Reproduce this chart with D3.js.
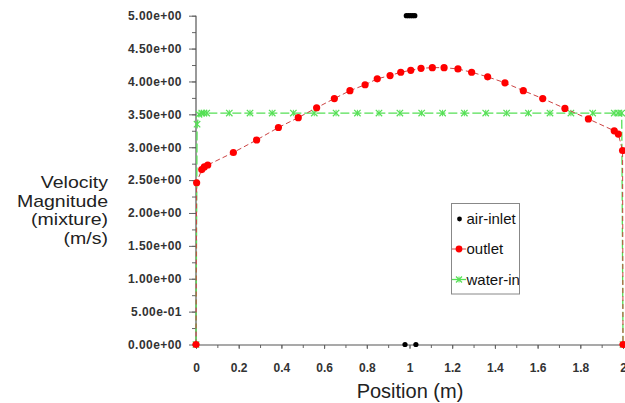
<!DOCTYPE html>
<html>
<head>
<meta charset="utf-8">
<script src="https://cdn.jsdelivr.net/npm/d3@7"></script>
<style>
  html, body { margin: 0; padding: 0; background: #fff; }
  svg { display: block; }
  text { font-family: "Liberation Sans", Arial, sans-serif; }
</style>
</head>
<body>
<svg id="chart" width="625" height="403"></svg>
<script>
// ---- data ----
const airX = [0.979, 0.985, 0.995, 1.005, 1.015, 1.025, 1.030];
const airY = [0, 5, 5, 5, 5, 5, 0];

const outletX = [0, 0.003, 0.027, 0.039, 0.055, 0.175, 0.284, 0.386, 0.479, 0.565, 0.648, 0.721, 0.792, 0.849, 0.909, 0.959, 1.006, 1.054, 1.107, 1.162, 1.227, 1.291, 1.366, 1.447, 1.533, 1.624, 1.728, 1.838, 1.959, 1.978, 1.998, 2.0];
const outletY = [0, 2.46, 2.66, 2.70, 2.73, 2.92, 3.11, 3.30, 3.45, 3.60, 3.74, 3.86, 3.95, 4.04, 4.09, 4.14, 4.17, 4.20, 4.21, 4.21, 4.19, 4.14, 4.07, 3.98, 3.86, 3.74, 3.59, 3.43, 3.25, 3.20, 2.95, 0];

const waterX = [0, 0.005, 0.014, 0.027, 0.037, 0.050, 0.156, 0.253, 0.357, 0.456, 0.554, 0.656, 0.756, 0.857, 0.955, 1.057, 1.155, 1.257, 1.357, 1.455, 1.557, 1.658, 1.756, 1.858, 1.959, 1.978, 1.994, 2.0];
const waterY = [0, 3.35, 3.50, 3.52, 3.52, 3.52, 3.52, 3.52, 3.52, 3.52, 3.52, 3.52, 3.52, 3.52, 3.52, 3.52, 3.52, 3.52, 3.52, 3.52, 3.52, 3.52, 3.52, 3.52, 3.52, 3.52, 3.52, 0];

const yTickValues = [0, 0.5, 1, 1.5, 2, 2.5, 3, 3.5, 4, 4.5, 5];
const yTickLabels = ["0.00e+00", "5.00e-01", "1.00e+00", "1.50e+00", "2.00e+00", "2.50e+00", "3.00e+00", "3.50e+00", "4.00e+00", "4.50e+00", "5.00e+00"];
const xTickValues = [0, 0.2, 0.4, 0.6, 0.8, 1, 1.2, 1.4, 1.6, 1.8, 2];
const xTickLabels = ["0", "0.2", "0.4", "0.6", "0.8", "1", "1.2", "1.4", "1.6", "1.8", "2"];
const yTitleLines = ["Velocity", "Magnitude", "(mixture)", "(m/s)"];
const xTitle = "Position (m)";
const seriesNames = ["air-inlet", "outlet", "water-inlet"];

// ---- scales ----
const x = d3.scaleLinear().domain([0, 2]).range([196, 623]);
const y = d3.scaleLinear().domain([0, 5]).range([344.5, 15.7]);

const svg = d3.select("#chart");

// ---- axes ----
const yMinor = d3.range(0, 5.01, 0.25);
const xMinor = d3.range(0, 2.001, 0.1);

const yAxis = d3.axisLeft(y).tickValues(yTickValues)
  .tickFormat((d, i) => yTickLabels[i]).tickSize(7).tickPadding(7);
const yAxisMinor = d3.axisLeft(y).tickValues(yMinor).tickFormat("").tickSize(4);
const xAxis = d3.axisBottom(x).tickValues(xTickValues)
  .tickFormat((d, i) => xTickLabels[i]).tickSize(4).tickPadding(14);
const xAxisMinor = d3.axisBottom(x).tickValues(xMinor).tickFormat("").tickSize(3);

function styleAxis(g) {
  g.select(".domain").remove();
  g.selectAll("line").attr("stroke", "#666").attr("stroke-width", 1);
}

svg.append("g").attr("transform", "translate(196,0)").call(yAxisMinor).call(styleAxis);
const gy = svg.append("g").attr("transform", "translate(196,0)").call(yAxis).call(styleAxis);
gy.selectAll("text")
  .attr("font-family", "Liberation Sans, Arial, sans-serif")
  .attr("font-size", 12).attr("font-weight", "bold").attr("fill", "#333")
  .attr("letter-spacing", 0.45);

svg.append("g").attr("transform", "translate(0,345)").call(xAxisMinor).call(styleAxis);
const gx = svg.append("g").attr("transform", "translate(0,345)").call(xAxis).call(styleAxis);
gx.selectAll("text")
  .attr("font-family", "Liberation Sans, Arial, sans-serif")
  .attr("font-size", 12).attr("font-weight", "bold").attr("fill", "#333");

// axis lines
svg.append("line").attr("x1", x(0)).attr("x2", x(0)).attr("y1", y(5)).attr("y2", y(0) + 1)
  .attr("stroke", "#555").attr("stroke-width", 1.2);
svg.append("line").attr("x1", x(0)).attr("x2", x(2)).attr("y1", 345).attr("y2", 345)
  .attr("stroke", "#555").attr("stroke-width", 1.2);

// ---- titles ----
svg.append("text").attr("x", 410).attr("y", 398).attr("text-anchor", "middle")
  .attr("font-size", 20).attr("fill", "#222").text(xTitle);

// y title: measure width at the wider visual size, then draw at a smaller height stretched to that width
const yt = svg.append("g");
yTitleLines.forEach((t, i) => {
  const tx = yt.append("text").attr("x", 108).attr("y", 188 + i * 18.6).attr("text-anchor", "end")
    .attr("font-size", 19.5).attr("fill", "#222").text(t);
  const w = tx.node().getComputedTextLength();
  tx.attr("font-size", 16.4).attr("textLength", w).attr("lengthAdjust", "spacingAndGlyphs");
});

// ---- series ----
const water = waterX.map((v, i) => [v, waterY[i]]);
const outlet = outletX.map((v, i) => [v, outletY[i]]);
const air = airX.map((v, i) => [v, airY[i]]);
const line = d3.line().x(d => x(d[0])).y(d => y(d[1]));

const green = "#55e055";
const red = "#ff0000";

svg.append("path").datum(water).attr("d", line).attr("fill", "none")
  .attr("stroke", green).attr("stroke-width", 1.3).attr("stroke-dasharray", "9,3");

function star(g, cx, cy, s, color) {
  g.append("line").attr("x1", cx - s).attr("x2", cx + s).attr("y1", cy - s).attr("y2", cy + s)
    .attr("stroke", color).attr("stroke-width", 1.2);
  g.append("line").attr("x1", cx - s).attr("x2", cx + s).attr("y1", cy + s).attr("y2", cy - s)
    .attr("stroke", color).attr("stroke-width", 1.2);
  g.append("line").attr("x1", cx).attr("x2", cx).attr("y1", cy - s).attr("y2", cy + s)
    .attr("stroke", color).attr("stroke-width", 1);
}
const wm = svg.append("g");
water.forEach(d => star(wm, x(d[0]), y(d[1]), 3.2, green));

svg.append("path").datum(outlet).attr("d", line).attr("fill", "none")
  .attr("stroke", "#cc4444").attr("stroke-width", 1).attr("stroke-dasharray", "5,3");
svg.append("g").selectAll("circle").data(outlet).join("circle")
  .attr("cx", d => x(d[0])).attr("cy", d => y(d[1])).attr("r", 3.6).attr("fill", red);

svg.append("g").selectAll("circle").data(air).join("circle")
  .attr("cx", d => x(d[0])).attr("cy", d => y(d[1])).attr("r", 2.6).attr("fill", "#000");

// ---- legend ----
const lg = svg.append("g");
svg.append("clipPath").attr("id", "lgclip").append("rect")
  .attr("x", 451.5).attr("y", 203.5).attr("width", 67.5).attr("height", 90.5);
lg.append("rect").attr("x", 451.5).attr("y", 203.5).attr("width", 68).attr("height", 90.5)
  .attr("fill", "#fff").attr("stroke", "#888").attr("stroke-width", 1);
const rows = [219, 249, 279.5];
lg.append("circle").attr("cx", 459.5).attr("cy", rows[0]).attr("r", 2.4).attr("fill", "#000");
lg.append("line").attr("x1", 452).attr("x2", 466).attr("y1", rows[1]).attr("y2", rows[1])
  .attr("stroke", "#cc4444").attr("stroke-width", 1);
lg.append("circle").attr("cx", 459).attr("cy", rows[1]).attr("r", 3.4).attr("fill", red);
lg.append("line").attr("x1", 452).attr("x2", 466).attr("y1", rows[2]).attr("y2", rows[2])
  .attr("stroke", green).attr("stroke-width", 1.3);
star(lg, 459, rows[2], 3, green);
const lt = lg.append("g").attr("clip-path", "url(#lgclip)");
seriesNames.forEach((n, i) => {
  lt.append("text").attr("x", 466.5).attr("y", rows[i] + 5.3)
    .attr("font-size", 15).attr("fill", "#111").text(n);
});
</script>
</body>
</html>
